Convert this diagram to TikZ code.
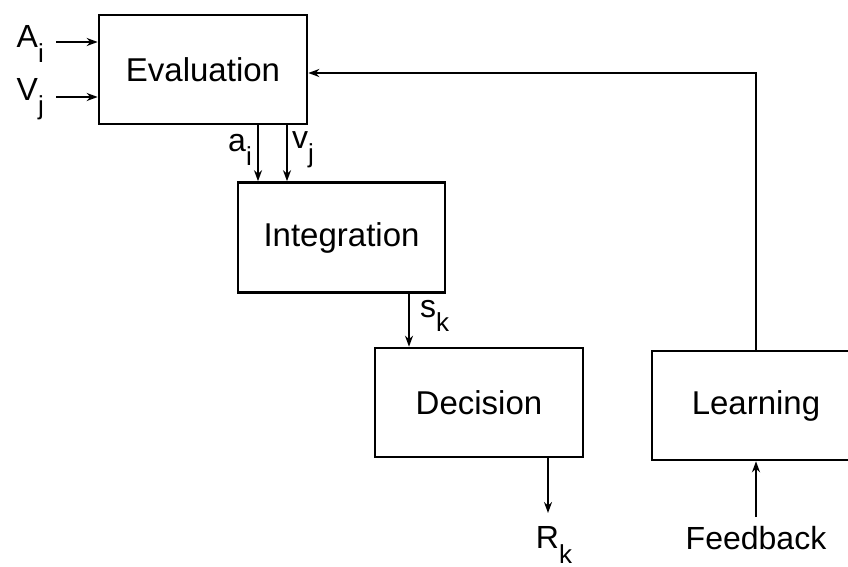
\documentclass[tikz,border=0pt]{standalone}
\usepackage{fontspec}
\setmainfont{Liberation Sans}
\usetikzlibrary{arrows.meta}
\newcommand{\subl}[2]{#1\raisebox{-0.45em}{\fontsize{26}{26}\selectfont #2}}
\begin{document}
\begin{tikzpicture}[x=1pt,y=-1pt,
  box/.style={draw, line width=2.6pt, minimum width=208pt, minimum height=109pt, inner sep=0pt, font=\fontsize{33}{33}\selectfont},
  conn/.style={line width=2.2pt, -{Stealth[length=11pt,width=8pt]}},
  lab/.style={inner sep=0pt, font=\fontsize{32}{32}\selectfont}]
\useasboundingbox (0,0) rectangle (848,567);
\node[box] (eval) at (203,69.5) {Evaluation};
\node[box, minimum width=207pt, minimum height=110pt] (integ) at (341.5,237.5) {Integration};
\node[box] (dec) at (479,402.5) {Decision};
\node[box] (learn) at (756,405.5) {Learning};
% inputs
\coordinate (ain) at (56,42);
\coordinate (vin) at (56,97);
\node[lab, anchor=east] (Alab) at (44,44) {\subl{A}{i}};
\node[lab, anchor=east] (Vlab) at (44,99) {\subl{V}{j}};
\draw[conn] (ain) -- (ain -| eval.west);
\draw[conn] (vin) -- (vin -| eval.west);
% eval -> integ
\draw[conn] (258,0 |- eval.south) -- (258,0 |- integ.north);
\draw[conn] (287,0 |- eval.south) -- (287,0 |- integ.north);
\node[lab, anchor=east] (alab) at (252,150) {\subl{a}{i}};
\node[lab, anchor=west] (vlab) at (292,150) {\subl{v}{j}};
% integ -> dec
\draw[conn] (409,0 |- integ.south) -- (409,0 |- dec.north);
\node[lab, anchor=west] (slab) at (420,316) {\subl{s}{k}};
% dec -> R
\coordinate (rend) at (548,513);
\draw[conn] (rend |- dec.south) -- (rend);
\node[lab] (Rlab) at (554,545) {\subl{R}{k}};
% learning loop
\draw[conn] (learn.north) -- (learn.north |- 0,73) -- (eval.east |- 0,73);
\node[lab] (fbk) at (756,538) {Feedback};
\draw[conn] ([yshift=9pt]fbk.north) -- (learn.south);
\end{tikzpicture}
\end{document}
